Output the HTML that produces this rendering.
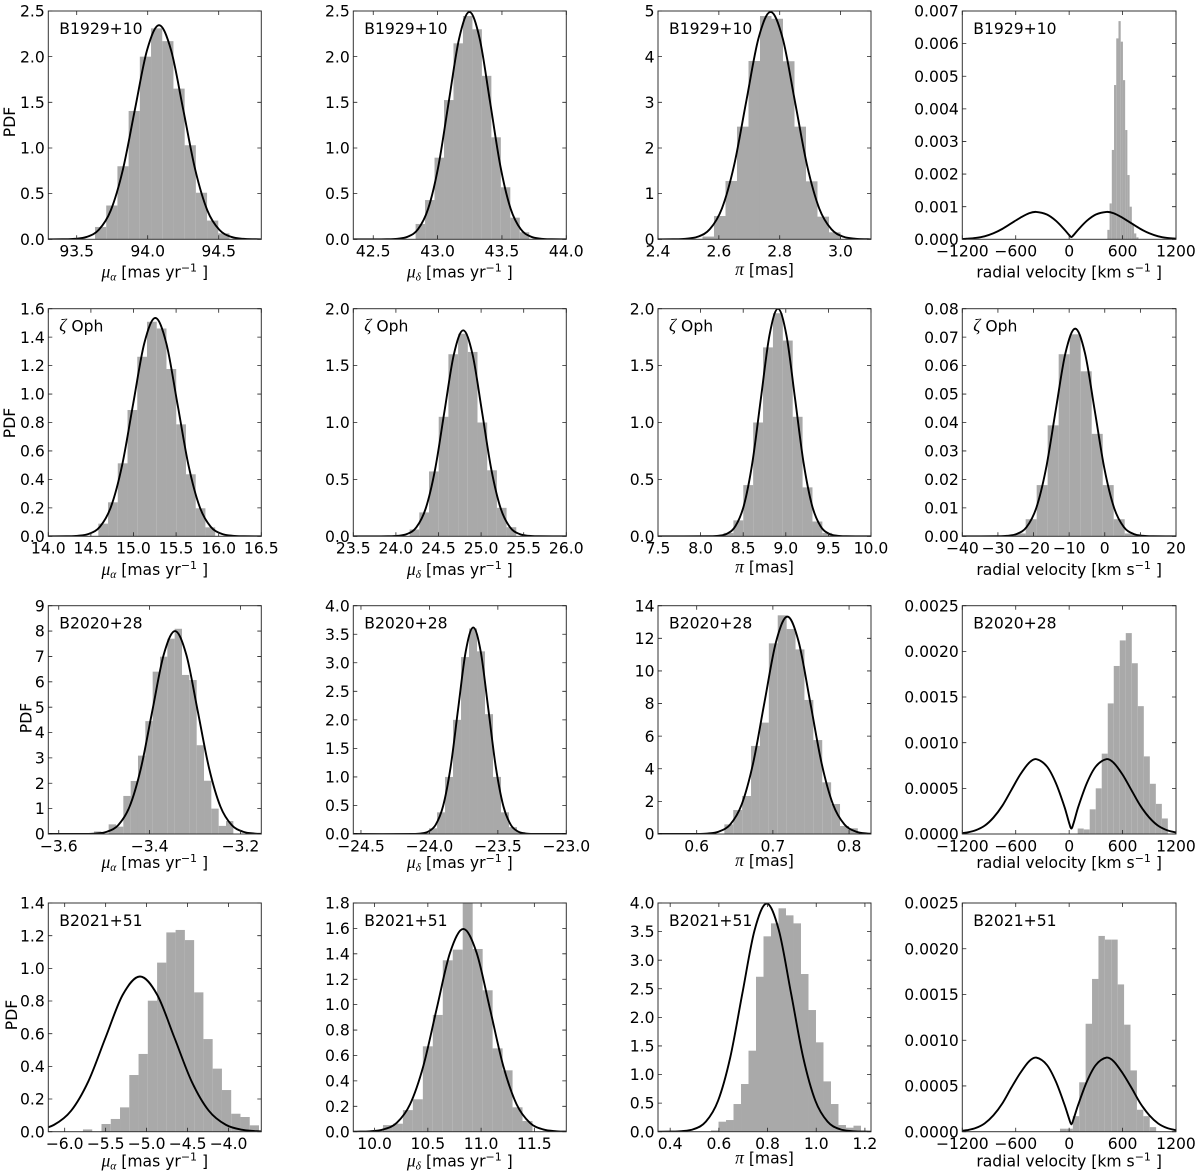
<!DOCTYPE html>
<html lang="en">
<head>
<meta charset="utf-8">
<title>Proper motion, parallax and radial velocity PDFs</title>
<style>
html,body{margin:0;padding:0;background:#fff;}
svg{display:block;}
text{font-family:"DejaVu Sans",sans-serif;fill:#000;}
.serif{font-family:"Liberation Serif",serif;font-style:italic;}
</style>
</head>
<body>
<svg id="figure" xmlns="http://www.w3.org/2000/svg" width="1200" height="1172" viewBox="0 0 1200 1172"></svg>
<script>
// ---------- shared data ----------
const yVelTicks = ['0.0000','0.0005','0.0010','0.0015','0.0020','0.0025'];
const xVelTicks = ['-1200','-600','0','600','1200'];
const velCurveX = [-1200,-1150,-1050,-950,-850,-750,-650,-550,-450,-370,-250,-150,-50,0,25,50,100,200,300,420,500,600,700,800,900,1000,1100,1200];

// ---------- B1929+10 ----------
const xLim11 = [93.3,94.8];
const yLim11 = [0,2.5];
const xTicks11 = ['93.5','94.0','94.5'];
const yTicks11 = ['0.0','0.5','1.0','1.5','2.0','2.5'];
const bins11 = [93.629,0.0789];
const heights11 = [0.135,0.37,0.80,1.405,2.0,2.31,2.17,1.65,1.03,0.51,0.205,0.065];
const curveX11 = [93.3,93.40,93.485,93.57,93.655,93.74,93.825,93.91,93.995,94.08,94.165,94.25,94.335,94.42,94.505,94.59,94.675,94.76,94.8];
const curveY11 = [0,0.0007,0.005,0.026,0.103,0.317,0.761,1.422,2.069,2.345,2.069,1.422,0.761,0.317,0.103,0.026,0.005,0.0007,0];

const xLim12 = [42.345,44.0];
const yLim12 = [0,2.5];
const xTicks12 = ['42.5','43.0','43.5','44.0'];
const yTicks12 = ['0.0','0.5','1.0','1.5','2.0','2.5'];
const bins12 = [42.829,0.0736];
const heights12 = [0.168,0.43,0.894,1.525,2.146,2.445,2.30,1.79,1.117,0.57,0.237,0.077];
const curveX12 = [42.345,42.607,42.687,42.767,42.847,42.927,43.007,43.087,43.167,43.247,43.327,43.407,43.487,43.567,43.647,43.727,43.807,43.887,44.0];
const curveY12 = [0,0.0007,0.0055,0.0276,0.109,0.337,0.808,1.510,2.197,2.49,2.197,1.510,0.808,0.337,0.109,0.0276,0.0055,0.0007,0];

const xLim13 = [2.4,3.1];
const yLim13 = [0,5];
const xTicks13 = ['2.4','2.6','2.8','3.0'];
const yTicks13 = ['0','1','2','3','4','5'];
const bins13 = [2.5462,0.0378];
const heights13 = [0.06,0.51,1.277,2.467,3.905,4.89,4.83,3.90,2.467,1.27,0.496,0.153];
const curveX13 = [2.4,2.45,2.49,2.53,2.57,2.61,2.65,2.69,2.73,2.77,2.81,2.85,2.89,2.93,2.97,3.01,3.05,3.09,3.1];
const curveY13 = [0,0.0015,0.011,0.055,0.219,0.674,1.617,3.020,4.395,4.98,4.395,3.020,1.617,0.674,0.219,0.055,0.011,0.0015,0];

const xLim14 = [-1200,1200];
const yLim14 = [0,0.007];
const xTicks14 = xVelTicks;
const yTicks14 = ['0.000','0.001','0.002','0.003','0.004','0.005','0.006','0.007'];
const bins14 = [429,25];
const heights14 = [0.00029,0.0011,0.00274,0.00473,0.00616,0.00669,0.00606,0.00488,0.00335,0.00197,0.001,0.00047,0.00018,0.00006];
const curveY14 = [0.00001,0.000017,0.000042,0.000092,0.000185,0.00032,0.00049,0.00066,0.0008,0.00084,0.00076,0.00057,0.00029,0.00013,0.00007,0.00013,0.00029,0.00057,0.00076,0.00084,0.0008,0.00066,0.00049,0.00032,0.000185,0.000092,0.000042,0.000017];

// ---------- zeta Oph ----------
const xLim21 = [14.0,16.5];
const yLim21 = [0,1.6];
const xTicks21 = ['14.0','14.5','15.0','15.5','16.0','16.5'];
const yTicks21 = ['0.0','0.2','0.4','0.6','0.8','1.0','1.2','1.4','1.6'];
const bins21 = [14.587,0.1143];
const heights21 = [0.089,0.239,0.513,0.888,1.262,1.508,1.461,1.176,0.787,0.436,0.197,0.063];
const curveX21 = [14.0,14.216,14.346,14.476,14.606,14.736,14.866,14.996,15.126,15.256,15.386,15.516,15.646,15.776,15.906,16.036,16.166,16.296,16.5];
const curveY21 = [0,0.0005,0.0034,0.017,0.067,0.208,0.498,0.931,1.355,1.535,1.355,0.931,0.498,0.208,0.067,0.017,0.0034,0.0005,0];

const xLim22 = [23.5,26.0];
const yLim22 = [0,2.0];
const xTicks22 = ['23.5','24.0','24.5','25.0','25.5','26.0'];
const yTicks22 = ['0.0','0.5','1.0','1.5','2.0'];
const bins22 = [24.161,0.1138];
const heights22 = [0.06,0.21,0.57,1.05,1.60,1.78,1.62,1.0,0.58,0.25,0.08];
const curveX22 = [23.5,23.91,24.02,24.13,24.24,24.35,24.46,24.57,24.68,24.79,24.90,25.01,25.12,25.23,25.34,25.45,25.56,25.67,26.0];
const curveY22 = [0,0.0005,0.004,0.02,0.079,0.245,0.588,1.098,1.597,1.81,1.597,1.098,0.588,0.245,0.079,0.02,0.004,0.0005,0];

const xLim23 = [7.5,10.0];
const yLim23 = [0,2.0];
const xTicks23 = ['7.5','8.0','8.5','9.0','9.5','10.0'];
const yTicks23 = ['0.0','0.5','1.0','1.5','2.0'];
const bins23 = [8.269,0.116];
const heights23 = [0.03,0.14,0.45,1.0,1.66,1.96,1.72,1.05,0.43,0.13,0.03];
const curveX23 = [7.5,8.108,8.208,8.308,8.408,8.508,8.608,8.708,8.808,8.908,9.008,9.108,9.208,9.308,9.408,9.508,9.608,9.708,10.0];
const curveY23 = [0,0.0006,0.0044,0.022,0.088,0.271,0.649,1.213,1.765,2.0,1.765,1.213,0.649,0.271,0.088,0.022,0.0044,0.0006,0];

const xLim24 = [-40,20];
const yLim24 = [0,0.08];
const xTicks24 = ['-40','-30','-20','-10','0','10','20'];
const yTicks24 = ['0.00','0.01','0.02','0.03','0.04','0.05','0.06','0.07','0.08'];
const bins24 = [-25.3,3.09];
const heights24 = [0.001,0.006,0.018,0.039,0.064,0.071,0.058,0.036,0.018,0.006,0.001];
const curveX24 = [-40,-30.18,-27.45,-24.71,-21.98,-19.24,-16.51,-13.77,-11.04,-8.3,-5.56,-2.83,-0.09,2.64,5.38,8.11,10.85,13.58,20];
const curveY24 = [0,0.00002,0.00016,0.00081,0.0032,0.0099,0.0237,0.0443,0.0644,0.073,0.0644,0.0443,0.0237,0.0099,0.0032,0.00081,0.00016,0.00002,0];

// ---------- B2020+28 ----------
const xLim31 = [-3.623,-3.154];
const yLim31 = [0,9];
const xTicks31 = ['-3.6','-3.4','-3.2'];
const yTicks31 = ['0','1','2','3','4','5','6','7','8','9'];
const bins31 = [-3.5224,0.01615];
const heights31 = [0.1,0,0.38,0.29,1.5,2.09,3.09,4.45,6.4,6.99,7.7,8.09,6.27,6.07,3.5,2.1,1.0,0.32,0.51];
const curveX31 = [-3.623,-3.544,-3.519,-3.494,-3.469,-3.444,-3.419,-3.394,-3.369,-3.344,-3.319,-3.294,-3.269,-3.244,-3.219,-3.194,-3.169,-3.144];
const curveY31 = [0,0.0024,0.0176,0.089,0.351,1.082,2.598,4.852,7.06,8.0,7.06,4.852,2.598,1.082,0.351,0.089,0.0176,0.0024];

const xLim32 = [-24.556,-23.0];
const yLim32 = [0,4.0];
const xTicks32 = ['-24.5','-24.0','-23.5','-23.0'];
const yTicks32 = ['0.0','0.5','1.0','1.5','2.0','2.5','3.0','3.5','4.0'];
const bins32 = [-24.061,0.0584];
const heights32 = [0.02,0.1,0.38,1.0,2.0,3.1,3.6,3.2,2.1,1.0,0.38,0.12,0.03];
const curveX32 = [-24.556,-24.12,-24.065,-24.01,-23.955,-23.9,-23.845,-23.79,-23.735,-23.68,-23.625,-23.57,-23.515,-23.46,-23.405,-23.35,-23.295,-23.24,-23.0];
const curveY32 = [0,0.001,0.008,0.04,0.159,0.49,1.175,2.196,3.195,3.62,3.195,2.196,1.175,0.49,0.159,0.04,0.008,0.001,0];

const xLim33 = [0.5492,0.8288];
const yLim33 = [0,14];
const xTicks33 = ['0.6','0.7','0.8'];
const yTicks33 = ['0','2','4','6','8','10','12','14'];
const bins33 = [0.6363,0.01168];
const heights33 = [0.59,1.47,2.33,5.4,6.83,11.69,13.41,12.57,11.32,8.22,5.76,3.17,1.84,0.49,0.35];
const curveX33 = [0.5492,0.599,0.614,0.629,0.644,0.659,0.674,0.689,0.704,0.719,0.734,0.749,0.764,0.779,0.794,0.809,0.824,0.839];
const curveY33 = [0,0.004,0.029,0.148,0.585,1.804,4.328,8.085,11.76,13.33,11.76,8.085,4.328,1.804,0.585,0.148,0.029,0.004];

const xLim34 = [-1200,1200];
const yLim34 = [0,0.0025];
const xTicks34 = xVelTicks;
const yTicks34 = yVelTicks;
const bins34 = [-106.5,67.5];
const heights34 = [0.000007,0,0,0.00006,0.00005,0.00027,0.0005,0.00088,0.00143,0.00184,0.00212,0.0022,0.00187,0.0014,0.00085,0.00055,0.00033,0.00017];
const curveY34 = [0.00001,0.000016,0.000041,0.00009,0.00018,0.00031,0.00048,0.00065,0.00078,0.00082,0.00074,0.00056,0.00029,0.00012,0.00006,0.00012,0.00029,0.00056,0.00074,0.00082,0.00078,0.00065,0.00048,0.00031,0.00018,0.00009,0.000041,0.000016];

// ---------- B2021+51 ----------
const xLim41 = [-6.2,-3.6];
const yLim41 = [0,1.4];
const xTicks41 = ['-6.0','-5.5','-5.0','-4.5','-4.0'];
const yTicks41 = ['0.0','0.2','0.4','0.6','0.8','1.0','1.2','1.4'];
const bins41 = [-5.777,0.1131];
const heights41 = [0.014,0,0.047,0.078,0.149,0.347,0.476,0.802,1.035,1.22,1.235,1.173,0.853,0.567,0.386,0.255,0.11,0.09,0.039];
const curveX41 = [-6.761,-6.551,-6.341,-6.131,-5.921,-5.711,-5.501,-5.291,-5.081,-4.871,-4.661,-4.451,-4.241,-4.031,-3.821,-3.611,-3.401];
const curveY41 = [0.0003,0.0021,0.0105,0.0417,0.1285,0.3085,0.5762,0.8384,0.95,0.8384,0.5762,0.3085,0.1285,0.0417,0.0105,0.0021,0.0003];

const xLim42 = [9.8,11.8];
const yLim42 = [0,1.8];
const xTicks42 = ['10.0','10.5','11.0','11.5'];
const yTicks42 = ['0.0','0.2','0.4','0.6','0.8','1.0','1.2','1.4','1.6','1.8'];
const bins42 = [10.0786,0.0936];
const heights42 = [0.052,0.063,0.17,0.255,0.672,0.919,1.349,1.433,1.85,1.438,1.113,0.656,0.483,0.192,0.084];
const curveX42 = [9.7,9.833,9.958,10.083,10.208,10.333,10.458,10.583,10.708,10.833,10.958,11.083,11.208,11.333,11.458,11.583,11.708,11.833,11.9];
const curveY42 = [0,0.0005,0.0035,0.0177,0.0701,0.2159,0.5182,0.968,1.408,1.596,1.408,0.968,0.5182,0.2159,0.0701,0.0177,0.0035,0.0005,0];

const xLim43 = [0.35,1.225];
const yLim43 = [0,4.0];
const xTicks43 = ['0.4','0.6','0.8','1.0','1.2'];
const yTicks43 = ['0.0','0.5','1.0','1.5','2.0','2.5','3.0','3.5','4.0'];
const bins43 = [0.5678,0.0308];
const heights43 = [0.023,0.175,0.204,0.484,0.834,1.417,2.71,3.417,3.644,3.907,3.784,3.644,2.758,2.128,1.563,0.88,0.484,0.117,0.07,0.105];
const curveX43 = [0.35,0.3966,0.4466,0.4966,0.5466,0.5966,0.6466,0.6966,0.7466,0.7966,0.8466,0.8966,0.9466,0.9966,1.0466,1.0966,1.1466,1.1966,1.225];
const curveY43 = [0,0.0012,0.0088,0.0443,0.1752,0.5398,1.2955,2.42,3.521,3.99,3.521,2.42,1.2955,0.5398,0.1752,0.0443,0.0088,0.0012,0];

const xLim44 = [-1200,1200];
const yLim44 = [0,0.0025];
const xTicks44 = xVelTicks;
const yTicks44 = yVelTicks;
const bins44 = [-103,72];
const heights44 = [0.000033,0.000033,0.00017,0.00054,0.00118,0.00167,0.00214,0.0021,0.0021,0.00161,0.00117,0.00067,0.00024,0.00017,0.00005];
const curveY44 = [0.00001,0.000016,0.00004,0.00009,0.00018,0.00031,0.00048,0.00064,0.00077,0.00081,0.00073,0.00055,0.00029,0.00014,0.00008,0.00014,0.00029,0.00055,0.00073,0.00081,0.00077,0.00064,0.00048,0.00031,0.00018,0.00009,0.00004,0.000016];

const panels = [
 {row:0,col:0,star:'B1929+10',kind:'ra',xLim:xLim11,yLim:yLim11,xTicks:xTicks11,yTicks:yTicks11,bins:bins11,heights:heights11,cx:curveX11,cy:curveY11},
 {row:0,col:1,star:'B1929+10',kind:'dec',xLim:xLim12,yLim:yLim12,xTicks:xTicks12,yTicks:yTicks12,bins:bins12,heights:heights12,cx:curveX12,cy:curveY12},
 {row:0,col:2,star:'B1929+10',kind:'plx',xLim:xLim13,yLim:yLim13,xTicks:xTicks13,yTicks:yTicks13,bins:bins13,heights:heights13,cx:curveX13,cy:curveY13},
 {row:0,col:3,star:'B1929+10',kind:'rv',xLim:xLim14,yLim:yLim14,xTicks:xTicks14,yTicks:yTicks14,bins:bins14,heights:heights14,cx:velCurveX,cy:curveY14},
 {row:1,col:0,star:'zeta',kind:'ra',xLim:xLim21,yLim:yLim21,xTicks:xTicks21,yTicks:yTicks21,bins:bins21,heights:heights21,cx:curveX21,cy:curveY21},
 {row:1,col:1,star:'zeta',kind:'dec',xLim:xLim22,yLim:yLim22,xTicks:xTicks22,yTicks:yTicks22,bins:bins22,heights:heights22,cx:curveX22,cy:curveY22},
 {row:1,col:2,star:'zeta',kind:'plx',xLim:xLim23,yLim:yLim23,xTicks:xTicks23,yTicks:yTicks23,bins:bins23,heights:heights23,cx:curveX23,cy:curveY23},
 {row:1,col:3,star:'zeta',kind:'rv',xLim:xLim24,yLim:yLim24,xTicks:xTicks24,yTicks:yTicks24,bins:bins24,heights:heights24,cx:curveX24,cy:curveY24},
 {row:2,col:0,star:'B2020+28',kind:'ra',xLim:xLim31,yLim:yLim31,xTicks:xTicks31,yTicks:yTicks31,bins:bins31,heights:heights31,cx:curveX31,cy:curveY31},
 {row:2,col:1,star:'B2020+28',kind:'dec',xLim:xLim32,yLim:yLim32,xTicks:xTicks32,yTicks:yTicks32,bins:bins32,heights:heights32,cx:curveX32,cy:curveY32},
 {row:2,col:2,star:'B2020+28',kind:'plx',xLim:xLim33,yLim:yLim33,xTicks:xTicks33,yTicks:yTicks33,bins:bins33,heights:heights33,cx:curveX33,cy:curveY33},
 {row:2,col:3,star:'B2020+28',kind:'rv',xLim:xLim34,yLim:yLim34,xTicks:xTicks34,yTicks:yTicks34,bins:bins34,heights:heights34,cx:velCurveX,cy:curveY34},
 {row:3,col:0,star:'B2021+51',kind:'ra',xLim:xLim41,yLim:yLim41,xTicks:xTicks41,yTicks:yTicks41,bins:bins41,heights:heights41,cx:curveX41,cy:curveY41},
 {row:3,col:1,star:'B2021+51',kind:'dec',xLim:xLim42,yLim:yLim42,xTicks:xTicks42,yTicks:yTicks42,bins:bins42,heights:heights42,cx:curveX42,cy:curveY42},
 {row:3,col:2,star:'B2021+51',kind:'plx',xLim:xLim43,yLim:yLim43,xTicks:xTicks43,yTicks:yTicks43,bins:bins43,heights:heights43,cx:curveX43,cy:curveY43},
 {row:3,col:3,star:'B2021+51',kind:'rv',xLim:xLim44,yLim:yLim44,xTicks:xTicks44,yTicks:yTicks44,bins:bins44,heights:heights44,cx:velCurveX,cy:curveY44}
];

// ---------- layout ----------
const colLeft = [48.3,353.3,658,962.3];
const colRight = [261.3,566.3,871,1176];
const rowTop = [11,308.7,605.7,903];
const rowBottom = [239.3,536.3,834,1131.7];
const sansLabelOffset = [38,38.5,34,34.7];
const plxLabelOffset = [35.7,36,32,31.6];
const pdfBaselineX = [15,15,31.6,17];
const pdfCenterY = [122,423,718,1015];
const FONT = 15.6;
const SVGNS = 'http://www.w3.org/2000/svg';
const fig = document.getElementById('figure');

function mk(tag, parent) {
  const el = document.createElementNS(SVGNS, tag);
  parent.appendChild(el);
  return el;
}
function attrs(el, map) {
  for (const k in map) el.setAttribute(k, map[k]);
  return el;
}
const minus = s => s.replace('-', '\u2212');

const X_LABELS = {
  ra: '<tspan class="serif" font-size="17.5">\u03bc</tspan><tspan class="serif" dy="3" font-size="11.5">\u03b1</tspan><tspan dy="-3">\u00a0[mas yr</tspan><tspan dy="-6" font-size="11">\u22121</tspan><tspan dy="6">\u00a0]</tspan>',
  dec: '<tspan class="serif" font-size="17.5">\u03bc</tspan><tspan class="serif" dy="3" font-size="11.5">\u03b4</tspan><tspan dy="-3">\u00a0[mas yr</tspan><tspan dy="-6" font-size="11">\u22121</tspan><tspan dy="6">\u00a0]</tspan>',
  plx: '<tspan class="serif" font-size="17.5">\u03c0</tspan><tspan>\u00a0[mas]</tspan>',
  rv: 'radial velocity [km s<tspan dy="-6" font-size="11">\u22121</tspan><tspan dy="6">\u00a0]</tspan>'
};

panels.forEach((p, idx) => {
  const L = colLeft[p.col], R = colRight[p.col], T = rowTop[p.row], B = rowBottom[p.row];
  const sx = v => L + (v - p.xLim[0]) / (p.xLim[1] - p.xLim[0]) * (R - L);
  const sy = v => B - (v - p.yLim[0]) / (p.yLim[1] - p.yLim[0]) * (B - T);

  const g = mk('g', fig);
  
  

  const clip = mk('clipPath', g);
  clip.setAttribute('id', 'clip' + idx);
  attrs(mk('rect', clip), {x: L, y: T, width: R - L, height: B - T});

  // histogram
  const hist = mk('g', g);
  
  
  hist.setAttribute('clip-path', 'url(#clip' + idx + ')');
  p.heights.forEach((h, i) => {
    if (h <= 0) return;
    const x0 = sx(p.bins[0] + i * p.bins[1]);
    const x1 = sx(p.bins[0] + (i + 1) * p.bins[1]);
    const bar = mk('rect', hist);
    
    
    attrs(bar, {x: x0, y: sy(h), width: x1 - x0, height: sy(0) - sy(h), fill: '#a9a9a9'});
  });

  // curve (cubic Hermite through the listed points)
  const n = p.cx.length;
  const slope = i => {
    const a = Math.max(0, i - 1), b = Math.min(n - 1, i + 1);
    return (sy(p.cy[b]) - sy(p.cy[a])) / (sx(p.cx[b]) - sx(p.cx[a]));
  };
  let d = 'M' + sx(p.cx[0]).toFixed(2) + ' ' + sy(p.cy[0]).toFixed(2);
  for (let i = 0; i < n - 1; i++) {
    const x0 = sx(p.cx[i]), y0 = sy(p.cy[i]), x1 = sx(p.cx[i + 1]), y1 = sy(p.cy[i + 1]);
    const h = (x1 - x0) / 3;
    d += 'C' + (x0 + h).toFixed(2) + ' ' + (y0 + slope(i) * h).toFixed(2) + ' ' +
         (x1 - h).toFixed(2) + ' ' + (y1 - slope(i + 1) * h).toFixed(2) + ' ' +
         x1.toFixed(2) + ' ' + y1.toFixed(2);
  }
  const curve = mk('path', g);
  
  
  attrs(curve, {d: d, fill: 'none', stroke: '#000', 'stroke-width': 1.9, 'clip-path': 'url(#clip' + idx + ')'});

  // frame
  const frame = mk('rect', g);
  
  
  attrs(frame, {x: L, y: T, width: R - L, height: B - T, fill: 'none', stroke: '#333', 'stroke-width': 1});

  // ticks
  p.xTicks.forEach(lbl => {
    const v = Number(lbl), x = sx(v);
    const t = mk('path', g);
    
    
    attrs(t, {d: 'M' + x + ' ' + B + 'v-4M' + x + ' ' + T + 'v4', stroke: '#222', 'stroke-width': 0.8});
    const tx = mk('text', g);
    
    
    attrs(tx, {x: x, y: B + 17.3, 'text-anchor': 'middle', 'font-size': FONT});
    tx.textContent = minus(lbl);
  });
  p.yTicks.forEach(lbl => {
    const v = Number(lbl), y = sy(v);
    const t = mk('path', g);
    
    
    attrs(t, {d: 'M' + L + ' ' + y + 'h4M' + R + ' ' + y + 'h-4', stroke: '#222', 'stroke-width': 0.8});
    const ty = mk('text', g);
    
    
    attrs(ty, {x: L - 3.5, y: y + 5.6, 'text-anchor': 'end', 'font-size': FONT});
    ty.textContent = lbl;
  });

  // x axis title
  const xt = mk('text', g);
  
  
  const off = p.kind === 'plx' ? plxLabelOffset[p.row] : sansLabelOffset[p.row];
  attrs(xt, {x: (L + R) / 2, y: B + off, 'text-anchor': 'middle', 'font-size': FONT});
  xt.innerHTML = X_LABELS[p.kind];

  // source label
  const sl = mk('text', g);
  
  
  attrs(sl, {x: L + 11, y: T + 23, 'font-size': FONT});
  if (p.star === 'zeta') {
    sl.innerHTML = '<tspan class="serif" font-size="17.5">\u03b6</tspan><tspan>\u00a0Oph</tspan>';
  } else {
    sl.textContent = p.star;
  }

  // y axis title
  if (p.col === 0) {
    const yt = mk('text', g);
    
    
    const bx = pdfBaselineX[p.row], cy = pdfCenterY[p.row];
    attrs(yt, {x: bx, y: cy, 'text-anchor': 'middle', 'font-size': FONT, transform: 'rotate(-90 ' + bx + ' ' + cy + ')'});
    yt.textContent = 'PDF';
  }
});
</script>
</body>
</html>
